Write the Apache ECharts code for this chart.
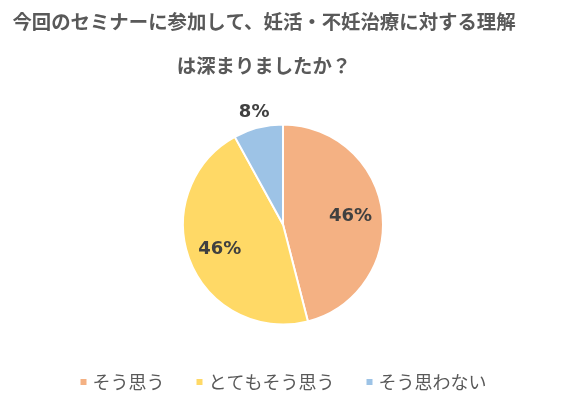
<!DOCTYPE html>
<html><head><meta charset="utf-8">
<script src="https://cdn.jsdelivr.net/npm/echarts@6/dist/echarts.min.js"></script>
<style>html,body{margin:0;padding:0;background:#fff}#c{width:565px;height:397px}</style>
</head><body><div id="c"></div>
<script>
const titleLines = ['今回のセミナーに参加して、妊活・不妊治療に対する理解', 'は深まりましたか？'];
const categories = ['そう思う', 'とてもそう思う', 'そう思わない'];
const values = [46, 46, 8];
const colors = ['#F4B183', '#FFD966', '#9DC3E6'];

const font = '"Noto Sans CJK JP", "Noto Sans", sans-serif';
const base = categories.map((n, i) => ({ name: n, value: values[i], itemStyle: { color: colors[i] } }));
const labelStyle = { color: '#404040', fontSize: 18, fontWeight: 'bold', fontFamily: '"DejaVu Sans", sans-serif',
  formatter: p => Math.round(p.percent) + '%' };

const chart = echarts.init(document.getElementById('c'));
chart.setOption({
  animation: false,
  title: {
    text: titleLines.join('\n'), left: 259, top: -5, textAlign: 'center',
    textStyle: { fontSize: 19.4, fontWeight: 'bold', color: '#595959', fontFamily: font, lineHeight: 44 }
  },
  legend: {
    bottom: 1, left: 'center', icon: 'rect', itemWidth: 8, itemHeight: 8, itemGap: 30,
    data: categories,
    textStyle: { fontSize: 18, color: '#595959', fontFamily: font }
  },
  series: [
    {
      type: 'pie', center: [283, 224.5], radius: [0, 100], startAngle: 90, clockwise: true,
      silent: true, label: { show: false }, labelLine: { show: false },
      itemStyle: { borderColor: '#fff', borderWidth: 2 },
      data: base
    },
    {
      type: 'pie', center: [283, 224.5], radius: [0, 130], startAngle: 90, clockwise: true,
      silent: true, legendHoverLink: false,
      itemStyle: { color: 'transparent', borderWidth: 0 },
      label: Object.assign({ show: true, position: 'inside' }, labelStyle),
      labelLine: { show: false },
      data: categories.map((n, i) => ({ name: n, value: values[i], itemStyle: { color: 'transparent' },
        label: { show: i < 2 } }))
    },
    {
      type: 'pie', center: [283, 224.5], radius: [0, 226], startAngle: 90, clockwise: true,
      silent: true, legendHoverLink: false,
      itemStyle: { color: 'transparent', borderWidth: 0 },
      label: Object.assign({ show: true, position: 'inside' }, labelStyle),
      labelLine: { show: false },
      data: categories.map((n, i) => ({ name: n, value: values[i], itemStyle: { color: 'transparent' },
        label: { show: i === 2 } }))
    }
  ]
});
</script></body></html>
